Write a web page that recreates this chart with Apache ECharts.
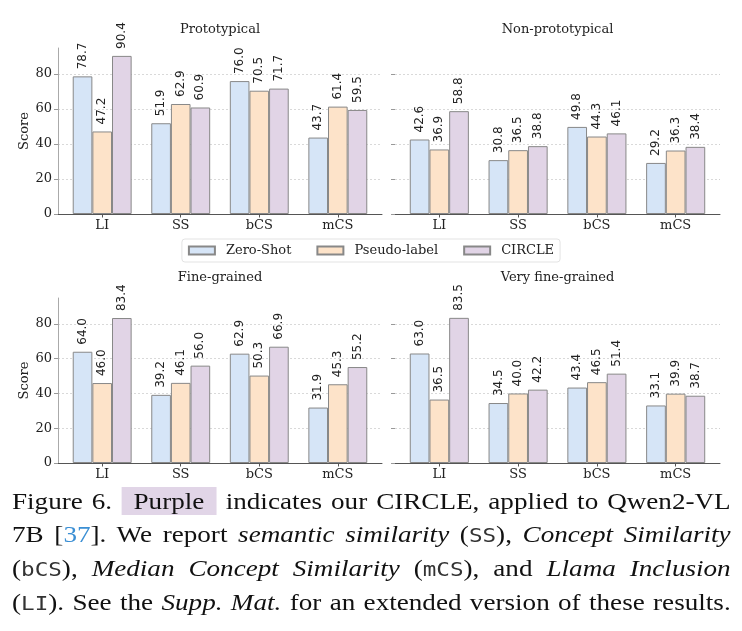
<!DOCTYPE html>
<html>
<head>
<meta charset="utf-8">
<script src="https://cdn.jsdelivr.net/npm/echarts@6/dist/echarts.min.js"></script>
<style>
  html, body { margin: 0; padding: 0; background: #fff; }
  #wrap { position: relative; width: 742px; height: 631px; }
  #chart { position: absolute; left: 0; top: 0; width: 742px; height: 631px; }
  #caption {
    position: absolute; left: 12px; top: 485px; width: 636px;
    transform: scaleX(1.13); transform-origin: 0 0;
    font-family: 'Liberation Serif', 'Times New Roman', serif;
    font-size: 24px; line-height: 33px; color: #111;
  }
  #caption div { text-align: justify; text-align-last: justify; white-space: nowrap; }
  #caption i { font-style: italic; }
  #caption .tt { font-family: 'DejaVu Sans Mono', monospace; font-size: 20px; color: #333; }
  #caption .hl { background: #e1d5e7; padding: 1px 11px; }
  #caption .ref { color: #3b8fd4; }
</style>
</head>
<body>
<div id="wrap">
  <div id="chart"></div>
  <div id="caption">
    <div>Figure 6. <span class="hl">Purple</span> indicates our CIRCLE, applied to Qwen2-VL</div>
    <div>7B [<span class="ref">37</span>]. We report <i>semantic similarity</i> (<span class="tt">SS</span>), <i>Concept Similarity</i></div>
    <div>(<span class="tt">bCS</span>), <i>Median Concept Similarity</i> (<span class="tt">mCS</span>), and <i>Llama Inclusion</i></div>
    <div>(<span class="tt">LI</span>). See the <i>Supp. Mat.</i> for an extended version of these results.</div>
  </div>
</div>
<script>
/*data*/
const categories = ['LI', 'SS', 'bCS', 'mCS']
const panelTitles = ['Prototypical', 'Non-prototypical', 'Fine-grained', 'Very fine-grained']
const seriesNames = ['Zero-Shot', 'Pseudo-label', 'CIRCLE']
// one row per panel, values in category order
const zeroShot = [
  [78.7, 51.9, 76.0, 43.7],
  [42.6, 30.8, 49.8, 29.2],
  [64.0, 39.2, 62.9, 31.9],
  [63.0, 34.5, 43.4, 33.1]
]
const pseudoLabel = [
  [47.2, 62.9, 70.5, 61.4],
  [36.9, 36.5, 44.3, 36.3],
  [46.0, 46.1, 50.3, 45.3],
  [36.5, 40.0, 46.5, 39.9]
]
const circle = [
  [90.4, 60.9, 71.7, 59.5],
  [58.8, 38.8, 46.1, 38.4],
  [83.4, 56.0, 66.9, 55.2],
  [83.5, 42.2, 51.4, 38.7]
]
const yTicks = [0, 20, 40, 60, 80]

/*styles*/
const fills = ['#d6e5f7', '#fde3c9', '#e1d4e6']
const serif = 'DejaVu Serif'
const sans = 'DejaVu Sans'

const grids = [
  { left: 58, top: 48, width: 324, height: 166 },
  { left: 395, top: 48, width: 325, height: 166 },
  { left: 58, top: 298, width: 324, height: 165 },
  { left: 395, top: 298, width: 325, height: 165 }
]

const allVals = [].concat(...zeroShot, ...pseudoLabel, ...circle)
const yMax = Math.max(...allVals) * 1.05
const xMin = -0.5625, xMax = 3.5625

let myChart = echarts.init(document.getElementById('chart'))

const groups = [zeroShot, pseudoLabel, circle]
const series = []
grids.forEach((g, p) => {
  const barW = g.width / (xMax - xMin) * 0.25
  groups.forEach((grp, s) => {
    series.push({
      type: 'bar',
      name: seriesNames[s],
      xAxisIndex: p,
      yAxisIndex: p,
      barWidth: barW,
      barGap: '0%',
      itemStyle: { color: fills[s], borderColor: '#888', borderWidth: 1 },
      label: {
        show: true,
        position: 'top',
        rotate: 90,
        align: 'left',
        verticalAlign: 'middle',
        distance: 7,
        fontFamily: sans,
        fontSize: 12,
        color: '#222',
        formatter: (d) => d.value[1].toFixed(1)
      },
      emphasis: { disabled: true },
      data: grp[p].map((v, i) => [i, v])
    })
  })
})

const option = {
  animation: false,
  backgroundColor: '#fff',
  title: grids.map((g, p) => ({
    text: panelTitles[p],
    left: g.left + g.width / 2,
    top: p < 2 ? 23 : 271,
    textAlign: 'center',
    padding: 0,
    textStyle: { fontFamily: serif, fontSize: 13, fontWeight: 'normal', color: '#222' }
  })),
  legend: {
    data: seriesNames,
    icon: 'rect',
    left: 'center',
    top: 239,
    itemWidth: 26,
    itemHeight: 8,
    itemGap: 25,
    padding: [5, 6, 5, 6],
    borderColor: '#e3e3e3',
    borderWidth: 1,
    borderRadius: 3,
    backgroundColor: '#fff',
    textStyle: { fontFamily: serif, fontSize: 13, color: '#222', padding: [0, 0, 0, 6] }
  },
  grid: grids,
  xAxis: grids.map((g, p) => ({
    type: 'value',
    gridIndex: p,
    min: xMin,
    max: xMax,
    axisLine: { show: true, onZero: false, lineStyle: { color: '#555', width: 1 } },
    axisTick: { show: true, length: 3.5, customValues: [0, 1, 2, 3], lineStyle: { color: '#555' } },
    axisLabel: {
      customValues: [0, 1, 2, 3],
      formatter: (v) => categories[v],
      margin: 5,
      fontFamily: serif,
      fontSize: 13,
      color: '#222'
    },
    splitLine: { show: false }
  })),
  yAxis: grids.map((g, p) => ({
    type: 'value',
    gridIndex: p,
    min: 0,
    max: yMax,
    interval: 20,
    name: p % 2 === 0 ? 'Score' : null,
    nameLocation: 'middle',
    nameGap: 18,
    nameTextStyle: { fontFamily: serif, fontSize: 13, color: '#222' },
    axisLine: { show: true, onZero: false, lineStyle: { color: p % 2 === 0 ? '#aaa' : 'rgba(0,0,0,0)', width: 1 } },
    axisTick: { show: true, length: 4, customValues: yTicks, lineStyle: { color: '#999' } },
    axisLabel: {
      show: true,
      customValues: yTicks,
      margin: 6,
      fontFamily: serif,
      fontSize: 13,
      color: p % 2 === 0 ? '#222' : 'rgba(0,0,0,0)'
    },
    splitLine: {
      show: true,
      showMinLine: false,
      lineStyle: { color: '#d0d0d0', width: 0.8, type: [2, 2] }
    }
  })),
  series: series
}

myChart.setOption(option)
</script>
</body>
</html>
